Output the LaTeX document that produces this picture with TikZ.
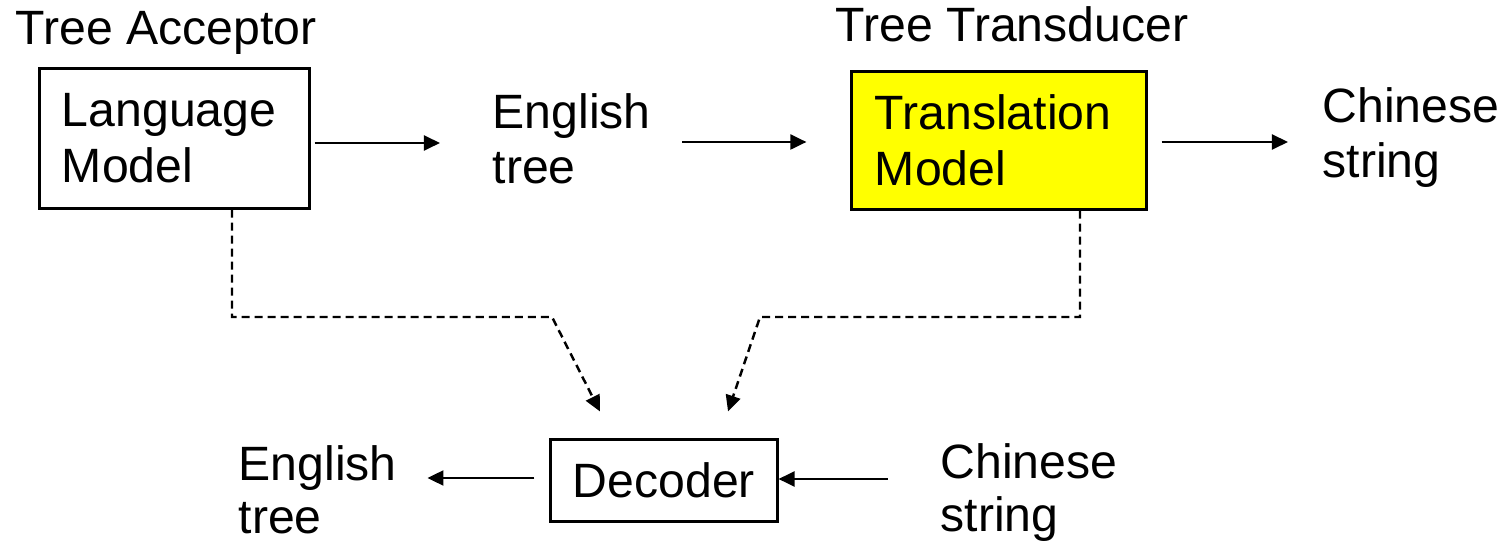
\documentclass[tikz,border=0pt]{standalone}
\usepackage{fontspec}
\setmainfont{Liberation Sans}
\usetikzlibrary{arrows.meta,calc}
\definecolor{boxyellow}{RGB}{255,255,0}
\begin{document}
\begin{tikzpicture}[x=0.01cm,y=-0.01cm,
  every node/.style={font=\fontsize{13.7}{15.9}\selectfont},
  lbl/.style={inner sep=0pt, align=left, anchor=base west},
  lowlbl/.style={lbl, font=\fontsize{13.7}{15.1}\selectfont},
  box/.style={draw, line width=0.85pt, align=left, inner xsep=0.22cm, inner ysep=0pt},
  arr/.style={line width=0.6pt, -{Triangle[length=0.16cm,width=0.15cm]}},
  darr/.style={line width=0.7pt, dash pattern=on 0.08cm off 0.05cm, -{Triangle[length=0.16cm,width=0.15cm]}}]
\useasboundingbox (0,0) rectangle (1505,549);
% boxes
\node[box, minimum width=2.69cm, minimum height=1.39cm, text width=2.25cm] (lm) at (174.5,138.5) {Language\\Model};
\node[box, fill=boxyellow, minimum width=2.94cm, minimum height=1.37cm, text width=2.48cm] (tm) at (999,140.5) {Translation\\Model};
\node[box, minimum width=2.24cm, minimum height=0.81cm, align=center] (dec) at (664,480.5) {Decoder};
% labels
\node[lbl] (ta) at (15,45) {Tree Acceptor};
\node[lbl] (tt) at (835,42) {Tree Transducer};
\node[lbl] (et1) at (492,184) {English\\tree};
\node[lbl] (cs1) at (1322,178) {Chinese\\string};
\node[lowlbl] (et2) at (238,534) {English\\tree};
\node[lowlbl] (cs2) at (940,532) {Chinese\\string};
% solid arrows
\draw[arr, shorten <=0.04cm, shorten >=0.52cm] ([yshift=-0.045cm]lm.east) -- ([yshift=-0.045cm]lm.east -| et1.west);
\draw[arr, shorten <=0.31cm, shorten >=0.44cm] ([yshift=-0.015cm]tm.west -| et1.east) -- ([yshift=-0.015cm]tm.west);
\draw[arr, shorten <=0.14cm, shorten >=0.34cm] ([yshift=-0.015cm]tm.east) -- ([yshift=-0.015cm]tm.east -| cs1.west);
\draw[arr, shorten <=0.15cm, shorten >=0.30cm] ([yshift=0.025cm]dec.west) -- ([yshift=0.025cm]dec.west -| et2.east);
\draw[arr, shorten <=0.52cm] ([yshift=0.015cm]dec.east -| cs2.west) -- ([yshift=0.015cm]dec.east);
% dashed arrows
\coordinate (c1) at (232,317);
\coordinate (c2) at (552,317);
\coordinate (c3) at (1080,317);
\coordinate (c4) at (760,317);
\draw[darr] (lm.south -| c1) -- (c1) -- (c2) -- ([xshift=-0.64cm,yshift=0.27cm]dec.north);
\draw[darr] (tm.south -| c3) -- (c3) -- (c4) -- ([xshift=0.64cm,yshift=0.27cm]dec.north);
\end{tikzpicture}
\end{document}
